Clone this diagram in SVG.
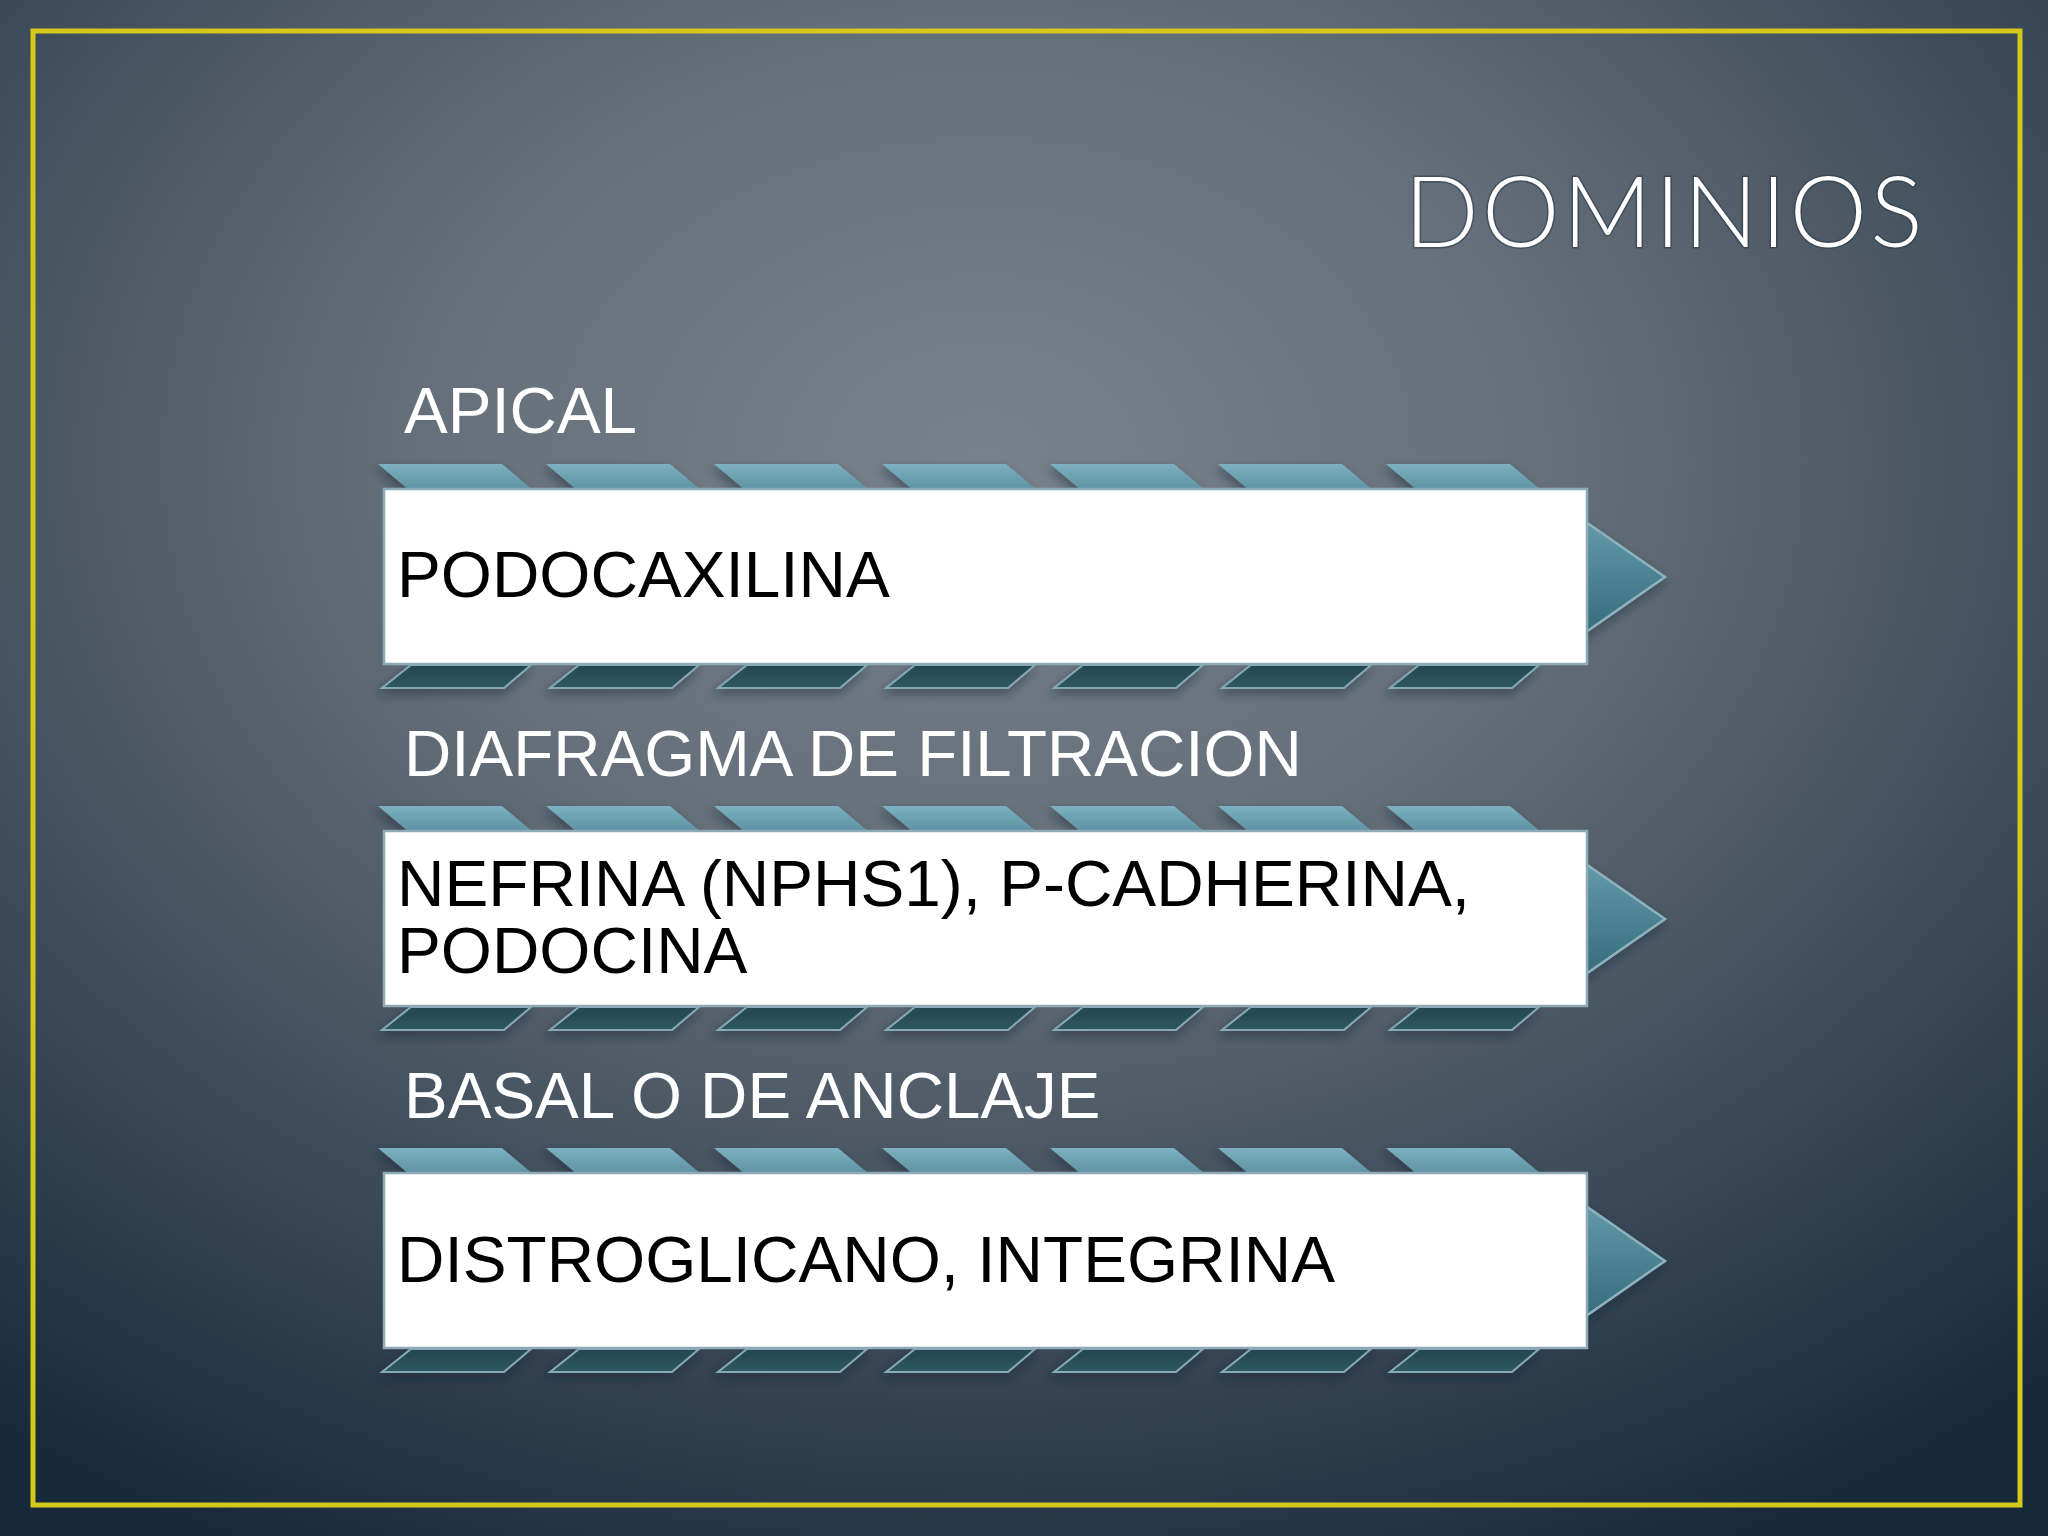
<svg xmlns="http://www.w3.org/2000/svg" xmlns:xlink="http://www.w3.org/1999/xlink" width="2048" height="1536" viewBox="0 0 2048 1536">
  <defs>
    <radialGradient id="bg" cx="0.48" cy="0.3" r="0.8" gradientUnits="objectBoundingBox">
      <stop offset="0" stop-color="#78828c"/>
      <stop offset="0.35" stop-color="#646f79"/>
      <stop offset="0.7" stop-color="#3c4a58"/>
      <stop offset="1" stop-color="#172839"/>
    </radialGradient>
    <linearGradient id="topG" x1="0" y1="0" x2="0" y2="1">
      <stop offset="0" stop-color="#7db0c0"/>
      <stop offset="1" stop-color="#5d92a3"/>
    </linearGradient>
    <linearGradient id="botG" x1="0" y1="0" x2="0" y2="1">
      <stop offset="0" stop-color="#234650"/>
      <stop offset="1" stop-color="#2f5862"/>
    </linearGradient>
    <linearGradient id="triG" x1="0" y1="0" x2="0" y2="1">
      <stop offset="0" stop-color="#6aa1b1"/>
      <stop offset="1" stop-color="#2f6476"/>
    </linearGradient>
    <filter id="sh" x="-5%" y="-20%" width="110%" height="140%">
      <feDropShadow dx="-2" dy="5" stdDeviation="5" flood-color="#1a2530" flood-opacity="0.45"/>
    </filter>
    <polygon id="pt" points="0,0 124,0 155,26 31,26" fill="url(#topG)"/>
    <polygon id="pb" points="33,201 153,201 126,224 4,224" fill="url(#botG)" stroke="#86aab5" stroke-width="2"/>
    <g id="chevrons">
      <use xlink:href="#pt" x="378"/><use xlink:href="#pt" x="546"/><use xlink:href="#pt" x="714"/>
      <use xlink:href="#pt" x="882"/><use xlink:href="#pt" x="1050"/><use xlink:href="#pt" x="1218"/>
      <use xlink:href="#pt" x="1386"/>
      <use xlink:href="#pb" x="378"/><use xlink:href="#pb" x="546"/><use xlink:href="#pb" x="714"/>
      <use xlink:href="#pb" x="882"/><use xlink:href="#pb" x="1050"/><use xlink:href="#pb" x="1218"/>
      <use xlink:href="#pb" x="1386"/>
      <polygon points="1560,40 1665,113 1560,186" fill="url(#triG)" stroke="#8db3bf" stroke-width="2.5"/>
    </g>
  </defs>
  <style>
    .lbl { font-family: "Liberation Sans", Arial, sans-serif; font-size: 65.5px; fill: #ffffff; }
    .txt { font-family: "Liberation Sans", Arial, sans-serif; font-size: 65.7px; fill: #000000; }
    .box { fill: #ffffff; stroke: #8eaab6; stroke-width: 2.5; }
    .title { font-family: "Lato", "Liberation Sans", sans-serif; font-weight: 300; font-size: 98px; fill: #ffffff; stroke: #2b3946; stroke-opacity: 0.55; stroke-width: 3; paint-order: stroke; }
  </style>

  <rect x="0" y="0" width="2048" height="1536" fill="url(#bg)"/>
  <rect x="33" y="31" width="1987" height="1474" fill="none" stroke="#d3c81b" stroke-width="5"/>

  <g id="title">
    <text class="title" x="1926" y="247" text-anchor="end" letter-spacing="3.2">DOMINIOS</text>
  </g>

  <g id="connectors"></g>

  <g id="node-apical">
    <text class="lbl" x="404" y="433">APICAL</text>
    <g transform="translate(0,464)" filter="url(#sh)">
      <use xlink:href="#chevrons"/>
    </g>
    <rect class="box" x="384" y="489" width="1203" height="175"/>
    <text class="txt" x="397" y="597">PODOCAXILINA</text>
  </g>

  <g id="node-diafragma">
    <text class="lbl" x="404" y="776">DIAFRAGMA DE FILTRACION</text>
    <g transform="translate(0,806)" filter="url(#sh)">
      <use xlink:href="#chevrons"/>
    </g>
    <rect class="box" x="384" y="831" width="1203" height="175"/>
    <text class="txt" x="397" y="906">NEFRINA (NPHS1), P-CADHERINA,</text>
    <text class="txt" x="397" y="973">PODOCINA</text>
  </g>

  <g id="node-basal">
    <text class="lbl" x="404" y="1118">BASAL O DE ANCLAJE</text>
    <g transform="translate(0,1148)" filter="url(#sh)">
      <use xlink:href="#chevrons"/>
    </g>
    <rect class="box" x="384" y="1173" width="1203" height="175"/>
    <text class="txt" x="397" y="1282">DISTROGLICANO, INTEGRINA</text>
  </g>
</svg>
